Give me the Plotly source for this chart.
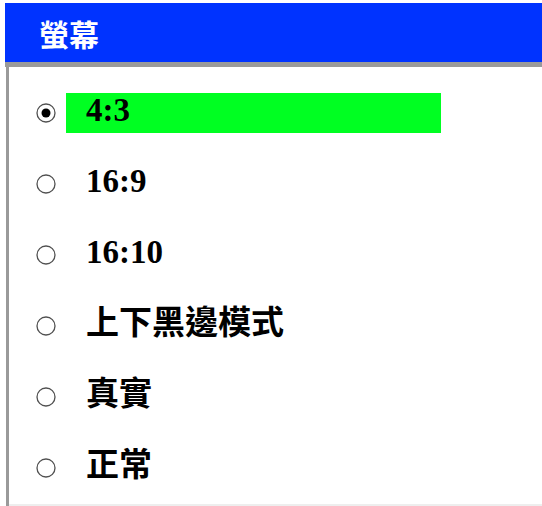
import plotly.graph_objects as go

# Données du menu
title = "螢幕"
options = ["4:3", "16:9", "16:10", "上下黑邊模式", "真實", "正常"]
selected = 0

W, H = 542, 506
row0, step = 113, 71
rows_y = [row0 + i * step for i in range(len(options))]

fig = go.Figure()

# Bandeau bleu + bordures
fig.add_shape(type="rect", x0=5, x1=W, y0=3, y1=62, fillcolor="#0033ff", line_width=0, layer="below")
fig.add_shape(type="rect", x0=5, x1=W, y0=62, y1=67, fillcolor="#9a9a9a", line_width=0, layer="below")
fig.add_shape(type="rect", x0=6, x1=9, y0=62, y1=H, fillcolor="#9a9a9a", line_width=0, layer="below")
fig.add_shape(type="line", x0=9, x1=W, y0=H - 1, y1=H - 1, line=dict(color="#dddddd", width=1))

# Surlignage de l'option sélectionnée
ys = rows_y[selected]
fig.add_shape(type="rect", x0=66, x1=441, y0=ys - 20, y1=ys + 20, fillcolor="#00ff22", line_width=0, layer="below")

# Boutons radio
fig.add_trace(go.Scatter(
    x=[46] * len(options), y=rows_y, mode="markers",
    marker=dict(symbol="circle-open", size=18, color="#505050", line=dict(width=1.3)),
    hoverinfo="skip", showlegend=False,
))
fig.add_trace(go.Scatter(
    x=[46], y=[rows_y[selected]], mode="markers",
    marker=dict(symbol="circle", size=9, color="black"),
    hoverinfo="skip", showlegend=False,
))

# Libellés (chiffres en serif, caractères CJK en repli)
fig.add_trace(go.Scatter(
    x=[86] * len(options), y=rows_y, mode="text", text=options,
    textposition="middle right",
    textfont=dict(family="Liberation Serif, Noto Sans CJK TC", size=33, color="black", weight="bold"),
    hoverinfo="skip", showlegend=False,
))

fig.add_annotation(x=37, y=33, text=title, showarrow=False, xanchor="left", yanchor="middle",
                   font=dict(family="Noto Sans CJK TC", size=30, color="white", weight="bold"))

fig.update_layout(
    width=W, height=H,
    margin=dict(l=0, r=0, t=0, b=0),
    plot_bgcolor="white", paper_bgcolor="white",
    xaxis=dict(range=[0, W], visible=False, fixedrange=True),
    yaxis=dict(range=[H, 0], visible=False, fixedrange=True),
)

# marge par défaut du body supprimée pour que la figure remplisse la fenêtre
fig.write_html("out.html", config={"displayModeBar": False},
               post_script="document.body.style.margin='0';")
